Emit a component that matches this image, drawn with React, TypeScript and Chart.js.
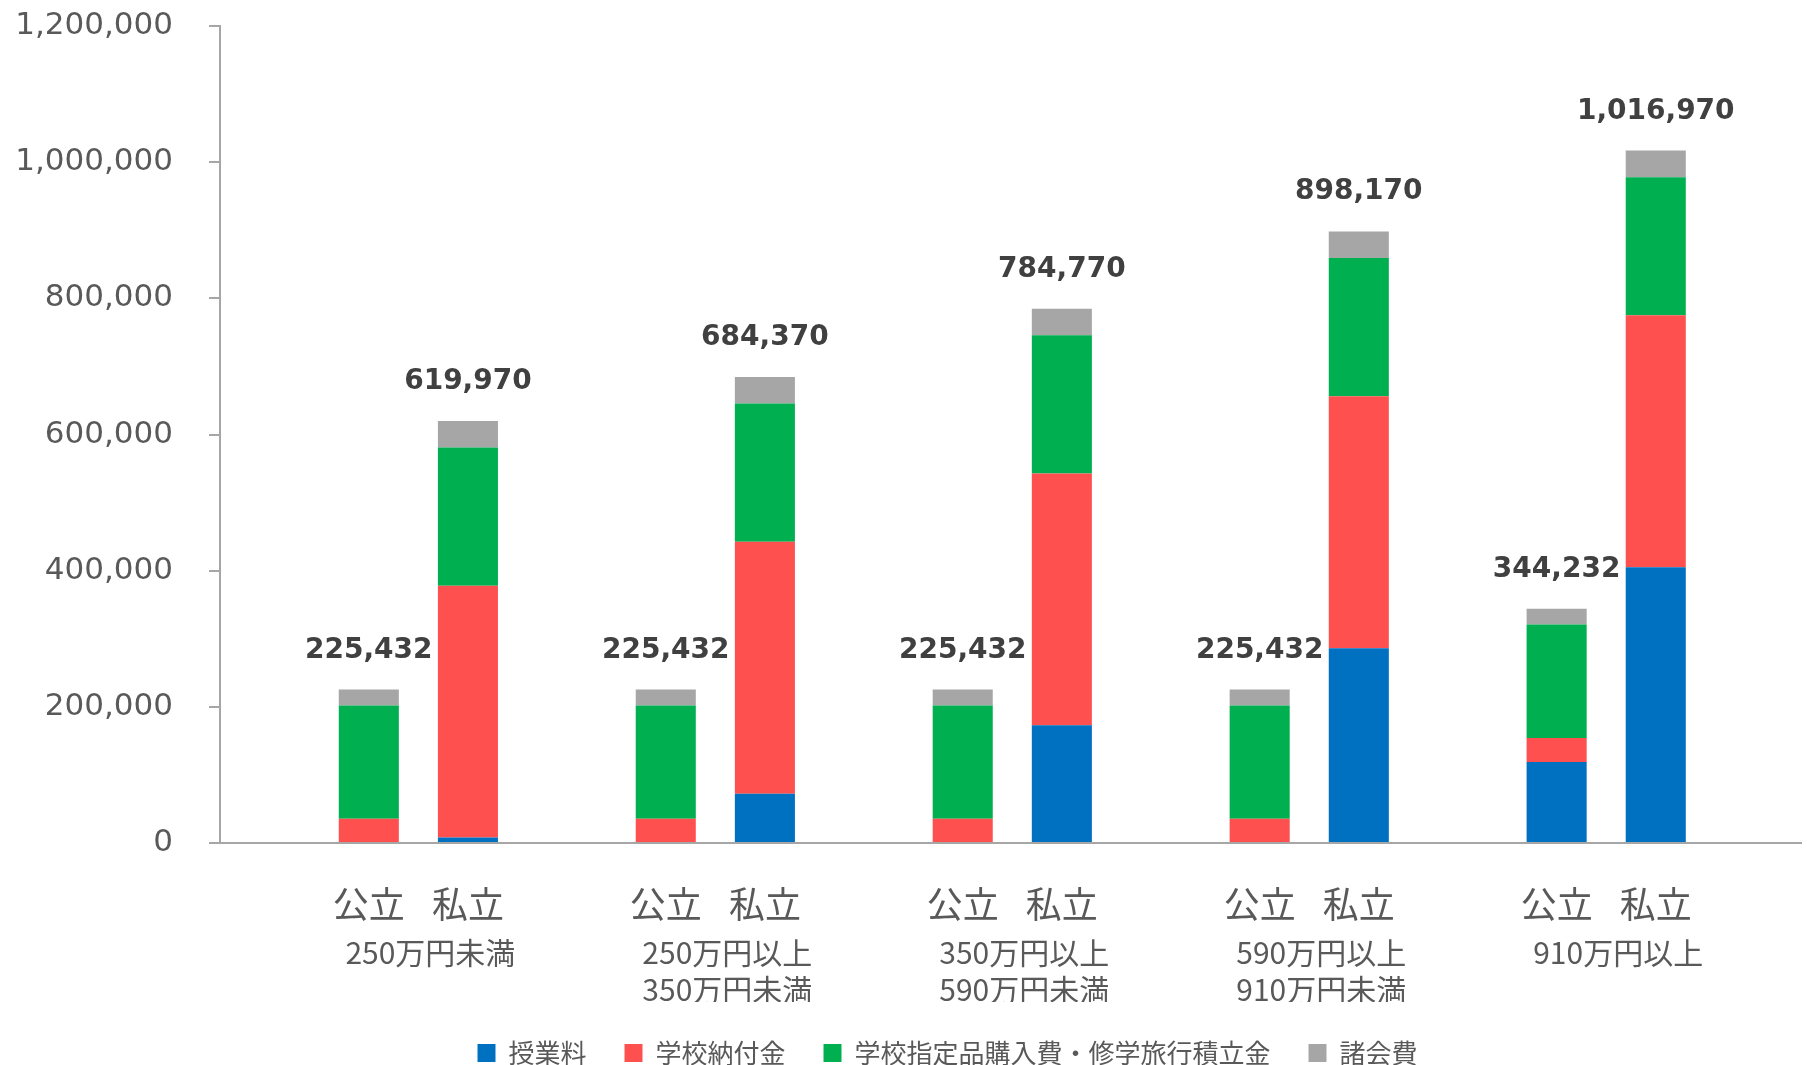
import React, { useEffect, useRef } from 'react';
import { Chart, registerables } from 'chart.js';

Chart.register(...registerables);

// ---- data ----
const incomeLabels: string[][] = [
  ['250万円未満'],
  ['250万円以上', '350万円未満'],
  ['350万円以上', '590万円未満'],
  ['590万円以上', '910万円未満'],
  ['910万円以上'],
];
const schoolTypes = ['公立', '私立'];
const seriesNames = ['授業料', '学校納付金', '学校指定品購入費・修学旅行積立金', '諸会費'];
const seriesColors = ['#0070C0', '#FF5050', '#00B050', '#A6A6A6'];

const publicTuition = [0, 0, 0, 0, 118800];
const publicSchoolFees = [35500, 35500, 35500, 35500, 35500];
const publicSupplies = [166500, 166500, 166500, 166500, 166500];
const publicDues = [23432, 23432, 23432, 23432, 23432];

const privateTuition = [7970, 72370, 172770, 286170, 404970];
const privateSchoolFees = [370000, 370000, 370000, 370000, 370000];
const privateSupplies = [203000, 203000, 203000, 203000, 203000];
const privateDues = [39000, 39000, 39000, 39000, 39000];

const yMin = 0;
const yMax = 1200000;
const yStep = 200000;

const publicSeries = [publicTuition, publicSchoolFees, publicSupplies, publicDues];
const privateSeries = [privateTuition, privateSchoolFees, privateSupplies, privateDues];

const CAT_PCT = 0.6676;
const BAR_PCT = 0.606;
const X_MIN = -0.668;
const X_MAX = 4.656;

const TEXT = '#595959';
const AXIS = '#A6A6A6';
const Y_FONT = '31px "DejaVu Sans"';

const totalsPlugin = {
  id: 'totals',
  afterDatasetsDraw(chart: any) {
    const ctx = chart.ctx;
    const yScale = chart.scales.y;
    ctx.save();
    ctx.font = 'bold 28px "DejaVu Sans"';
    ctx.fillStyle = '#404040';
    ctx.textAlign = 'center';
    ctx.textBaseline = 'alphabetic';
    const stacks = [publicSeries, privateSeries];
    stacks.forEach((series, s) => {
      const lastIdx = s * 4 + 3;
      const meta = chart.getDatasetMeta(lastIdx);
      incomeLabels.forEach((_, i) => {
        const total = series.reduce((a, arr) => a + arr[i], 0);
        const el = meta.data[i];
        if (!el) return;
        const y = yScale.getPixelForValue(total) - 32;
        ctx.fillText(total.toLocaleString('en-US'), el.x, y);
      });
    });
    ctx.restore();
  },
};

export default function App() {
  const ref = useRef<HTMLCanvasElement | null>(null);

  useEffect(() => {
    if (!ref.current) return;
    const datasets: any[] = [];
    publicSeries.forEach((arr, k) => {
      datasets.push({
        label: seriesNames[k],
        data: arr.map((v, i) => ({ x: i, y: v })),
        backgroundColor: seriesColors[k],
        borderWidth: 0,
        stack: 'public',
        categoryPercentage: CAT_PCT,
        barPercentage: BAR_PCT,
      });
    });
    privateSeries.forEach((arr, k) => {
      datasets.push({
        label: seriesNames[k],
        data: arr.map((v, i) => ({ x: i, y: v })),
        backgroundColor: seriesColors[k],
        borderWidth: 0,
        stack: 'private',
        categoryPercentage: CAT_PCT,
        barPercentage: BAR_PCT,
      });
    });

    const half = CAT_PCT / 4;
    const typeTickValues: number[] = [];
    incomeLabels.forEach((_, i) => {
      typeTickValues.push(i - half, i + half);
    });

    // width of widest y label, to right-align labels at x = 173 with mirrored ticks
    const mctx = document.createElement('canvas').getContext('2d')!;
    mctx.font = Y_FONT;
    const widest = mctx.measureText(yMax.toLocaleString('en-US')).width;
    const yLabelPad = 173 - 220 - widest;

    const chart = new Chart(ref.current, {
      type: 'bar',
      data: { datasets },
      plugins: [totalsPlugin],
      options: {
        animation: false,
        responsive: false,
        devicePixelRatio: 1,
        layout: { padding: { left: 94, right: 6, top: 26, bottom: 0 } },
        plugins: {
          tooltip: { enabled: false },
          legend: {
            position: 'bottom',
            labels: {
              boxWidth: 18,
              boxHeight: 18,
              padding: 38,
              color: TEXT,
              font: { family: '"Noto Sans CJK JP"', size: 26 },
              filter: (item: any) => item.datasetIndex < 4,
            },
          },
        },
        scales: {
          x: {
            type: 'linear',
            position: 'bottom',
            min: X_MIN,
            max: X_MAX,
            offset: false,
            bounds: 'data',
            weight: 1,
            grid: { display: false, drawTicks: false, offset: false },
            border: { display: false },
            afterBuildTicks: (scale: any) => {
              scale.ticks = incomeLabels.map((_, i) => ({ value: i }));
            },
            afterFit: (scale: any) => {
              scale.height = 75;
            },
            ticks: {
              autoSkip: false,
              maxRotation: 0,
              minRotation: 0,
              padding: 6.5,
              labelOffset: 12,
              color: TEXT,
              font: { family: '"Noto Sans CJK JP"', size: 30, lineHeight: 1.25 },
              callback: (_v: any, idx: number) => incomeLabels[idx],
            },
          },
          x2: {
            type: 'linear',
            position: 'bottom',
            min: X_MIN,
            max: X_MAX,
            offset: false,
            bounds: 'data',
            weight: 0,
            grid: { display: false, drawTicks: false, offset: false },
            border: { display: true, color: AXIS, width: 2 },
            afterBuildTicks: (scale: any) => {
              scale.ticks = typeTickValues.map((v) => ({ value: v }));
            },
            afterFit: (scale: any) => {
              scale.height = 84;
            },
            ticks: {
              autoSkip: false,
              maxRotation: 0,
              minRotation: 0,
              padding: 39.5,
              color: TEXT,
              font: { family: '"Noto Sans CJK JP"', size: 36, lineHeight: 1.2 },
              callback: (_v: any, idx: number) => schoolTypes[idx % 2],
            },
          },
          y: {
            stacked: true,
            min: yMin,
            max: yMax,
            afterFit: (scale: any) => {
              scale.width = 126;
              scale.paddingTop = 0;
              scale.paddingBottom = 0;
            },
            grid: {
              drawOnChartArea: false,
              drawTicks: true,
              tickLength: 11,
              color: AXIS,
              lineWidth: 2,
            },
            border: { display: true, color: AXIS, width: 2 },
            ticks: {
              stepSize: yStep,
              mirror: true,
              crossAlign: 'far',
              padding: yLabelPad,
              color: TEXT,
              font: { family: '"DejaVu Sans"', size: 31 },
              callback: (v: any) => Number(v).toLocaleString('en-US'),
            },
          },
        },
      } as any,
    });
    return () => chart.destroy();
  }, []);

  return (
    <div
      style={{
        position: 'fixed',
        left: 0,
        top: 0,
        width: 1807,
        height: 1065,
        overflow: 'hidden',
        background: '#fff',
      }}
    >
      <canvas ref={ref} width={1807} height={1076} style={{ width: 1807, height: 1076, display: 'block' }} />
    </div>
  );
}
